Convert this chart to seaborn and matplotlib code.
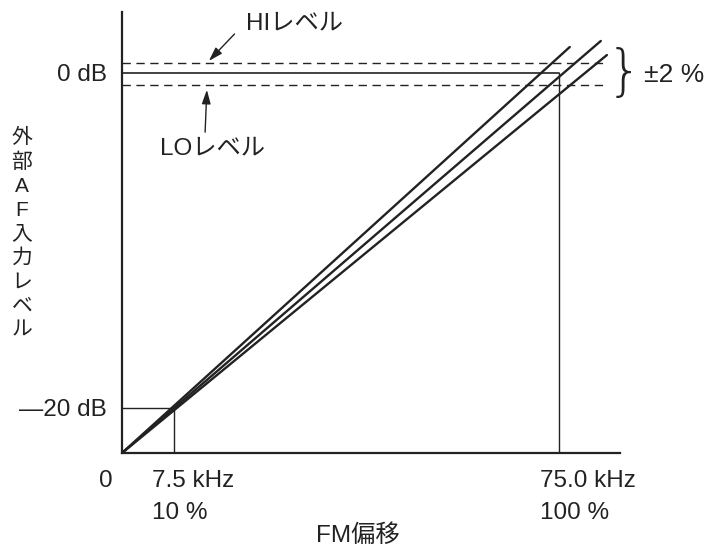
import numpy as np
import pandas as pd
import matplotlib
matplotlib.use("Agg")
import matplotlib.pyplot as plt
import seaborn as sns

# schematic units: x in % of 75 kHz deviation, y in dB
x_end = 114.0
y_bottom = -22.69
y_top = 3.64

# the three response lines (start at origin, end beyond the 0 dB level)
line_names = ["A", "B", "C"]
line_x = [[0, 102.5], [0, 109.6], [0, 111.0]]
line_y = [[y_bottom, 1.55], [y_bottom, 1.91], [y_bottom, 1.07]]

hi_level = 0.60
lo_level = -0.72
ref_x = [11.9, 100.0]      # 10 % and 100 % marks
ref_y = [-20.0, 0.0]       # -20 dB and 0 dB marks

ytick_pos = [0, -20]
ytick_labels = ["0 dB", "\u201420 dB"]
x_row1 = ["0", "7.5 kHz", "75.0 kHz"]
x_row2 = ["", "10 %", "100 %"]

sns.set_theme(style="white")
plt.rcParams["font.family"] = ["Liberation Sans", "Noto Sans CJK JP", "DejaVu Sans"]
ink = "#222222"

df = pd.DataFrame({
    "x": sum(line_x, []),
    "y": sum(line_y, []),
    "line": [n for n in line_names for _ in range(2)],
})

fig = plt.figure(figsize=(7.19, 5.48), dpi=100)
ax = fig.add_axes([122 / 719, 95 / 548, 498 / 719, 441 / 548])

sns.lineplot(data=df, x="x", y="y", units="line", estimator=None,
             color=ink, lw=1.7, ax=ax, legend=False)

# levels
ax.plot([0, ref_x[1]], [ref_y[1], ref_y[1]], color=ink, lw=1.2)
ax.plot([0, 111.2], [hi_level, hi_level], color=ink, lw=1.0, ls=(0, (6, 4)))
ax.plot([0, 111.2], [lo_level, lo_level], color=ink, lw=1.0, ls=(0, (6, 4)))
ax.plot([ref_x[1], ref_x[1]], [y_bottom, ref_y[1]], color=ink, lw=1.0)
ax.plot([0, ref_x[0]], [ref_y[0], ref_y[0]], color=ink, lw=1.0)
ax.plot([ref_x[0], ref_x[0]], [y_bottom, ref_y[0]], color=ink, lw=1.0)

ax.set_xlim(0, x_end)
ax.set_ylim(y_bottom, y_top)
for s in ["top", "right"]:
    ax.spines[s].set_visible(False)
for s in ["left", "bottom"]:
    ax.spines[s].set_color(ink)
    ax.spines[s].set_linewidth(1.6)

fs = 17.5
ax.set_yticks(ytick_pos)
ax.set_yticklabels(ytick_labels, fontsize=fs, color=ink)
ax.tick_params(axis="y", length=0, pad=11)
ax.set_xticks([])
ax.set_xlabel("")
ax.set_ylabel("")

ax.text(-3.66, -24.35, x_row1[0], ha="center", va="center", fontsize=fs, color=ink, clip_on=False)
for xl, a, b in [(6.86, x_row1[1], x_row2[1]), (95.65, x_row1[2], x_row2[2])]:
    ax.text(xl, -24.35, a, ha="left", va="center", fontsize=fs, color=ink, clip_on=False)
    ax.text(xl, -26.3, b, ha="left", va="center", fontsize=fs, color=ink, clip_on=False)
ax.text(54.0, -27.6, "FM偏移", ha="center", va="center", fontsize=fs, color=ink, clip_on=False)

# vertical y label
ax.text(-22.9, -9.6, "\n".join("外部AF入力レベル"), ha="center", va="center",
        fontsize=15, linespacing=1.33, color=ink, clip_on=False)

# annotations
arrow = dict(arrowstyle="-|>,head_length=0.7,head_width=0.22", color=ink, lw=1.0)
ax.annotate("", xy=(19.45, hi_level), xytext=(26.2, 2.45), arrowprops=arrow)
ax.text(28.4, 2.93, "HIレベル", ha="left", va="center", fontsize=fs, color=ink, clip_on=False)
ax.annotate("", xy=(19.45, lo_level - 0.12), xytext=(19.0, -3.7), arrowprops=arrow)
ax.text(8.7, -4.48, "LOレベル", ha="left", va="center", fontsize=fs, color=ink, clip_on=False)

ax.text(114.9, -0.05, "}", ha="center", va="center", fontsize=40, color=ink,
        family="DejaVu Sans", fontweight="ultralight", clip_on=False)
ax.text(119.4, -0.12, "±2 %", ha="left", va="center", fontsize=19, color=ink, clip_on=False)

fig.savefig("out.png", dpi=100)
